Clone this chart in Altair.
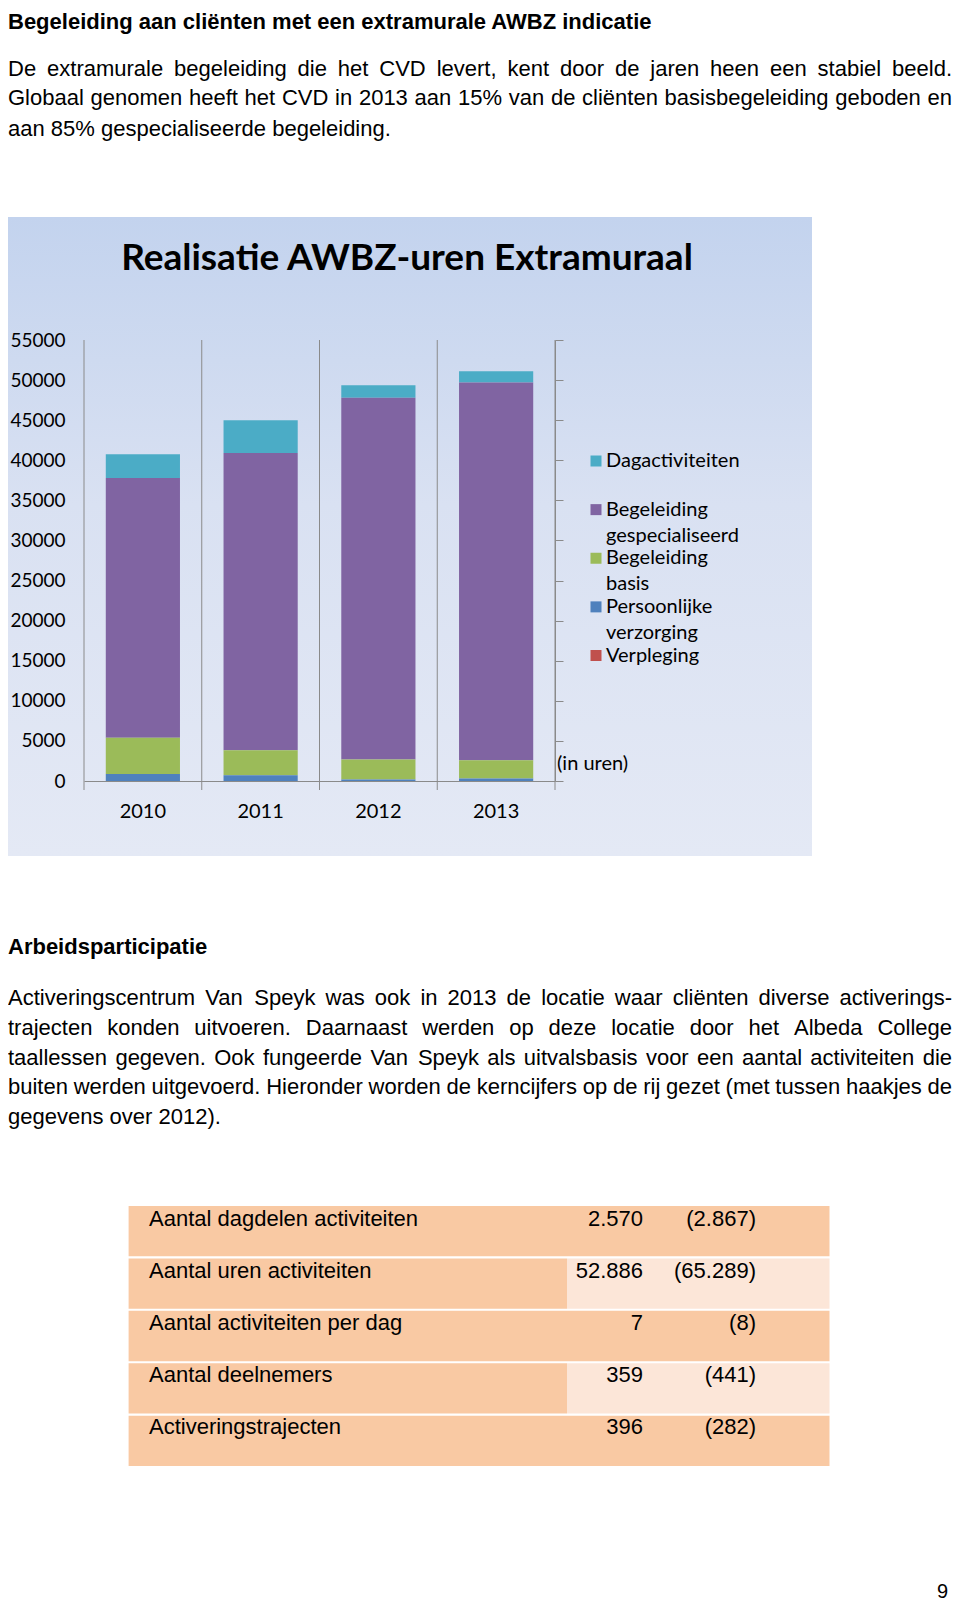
import altair as alt
import pandas as pd

# ---------------- data ----------------
years = ["2010", "2011", "2012", "2013"]
series = ["Dagactiviteiten", "Begeleiding gespecialiseerd", "Begeleiding basis",
          "Persoonlijke verzorging", "Verpleging"]
legend_labels = ["Dagactiviteiten", "Begeleiding\ngespecialiseerd", "Begeleiding\nbasis",
                 "Persoonlijke\nverzorging", "Verpleging"]
series_colors = ["#4BACC6", "#8064A2", "#9BBB59", "#4F81BD", "#C0504D"]
dagactiviteiten = [2950, 4100, 1550, 1400]
begeleiding_gespecialiseerd = [32410, 37070, 45110, 47110]
begeleiding_basis = [4510, 3105, 2490, 2290]
persoonlijke_verzorging = [880, 725, 200, 300]
verpleging = [0, 0, 0, 0]
y_ticks = [0, 5000, 10000, 15000, 20000, 25000, 30000, 35000, 40000, 45000, 50000, 55000]

table_labels = ["Aantal dagdelen activiteiten", "Aantal uren activiteiten",
                "Aantal activiteiten per dag", "Aantal deelnemers", "Activeringstrajecten"]
table_2013 = ["2.570", "52.886", "7", "359", "396"]
table_2012 = ["(2.867)", "(65.289)", "(8)", "(441)", "(282)"]

title1 = "Begeleiding aan cliënten met een extramurale AWBZ indicatie"
para1 = ["De extramurale begeleiding die het CVD levert, kent door de jaren heen een stabiel beeld.",
         "Globaal genomen heeft het CVD in 2013 aan 15% van de cliënten basisbegeleiding geboden en",
         "aan 85% gespecialiseerde begeleiding."]
title2 = "Arbeidsparticipatie"
para2 = ["Activeringscentrum Van Speyk was ook in 2013 de locatie waar cliënten diverse activerings-",
         "trajecten konden uitvoeren. Daarnaast werden op deze locatie door het Albeda College",
         "taallessen gegeven. Ook fungeerde Van Speyk als uitvalsbasis voor een aantal activiteiten die",
         "buiten werden uitgevoerd. Hieronder worden de kerncijfers op de rij gezet (met tussen haakjes de",
         "gegevens over 2012)."]
chart_title = "Realisatie AWBZ-uren Extramuraal"

# ---------------- layout constants ----------------
W, H = 944, 1597
BODY = "Liberation Sans"
CF = "Lato"
FS = 22
GRAY = "#8a8a8a"

# Arial / Liberation Sans advance widths (per 1000 em) for justification
AW = {' ': 278, '%': 889, '(': 333, ')': 333, ',': 278, '-': 333, '.': 278}
for d in "0123456789":
    AW[d] = 556
AW.update(dict(zip("ABCDEFGHIJKLMNOPQRSTUVWXYZ",
                   [667, 667, 722, 722, 667, 611, 778, 722, 278, 500, 667, 556, 833, 722, 778,
                    667, 778, 722, 667, 611, 722, 667, 944, 667, 667, 611])))
AW.update(dict(zip("abcdefghijklmnopqrstuvwxyz",
                   [556, 556, 500, 556, 556, 278, 556, 556, 222, 222, 500, 222, 833, 556, 556,
                    556, 556, 333, 500, 278, 556, 500, 722, 500, 500, 500])))
AW['ë'] = 556


def tw(s, size=FS):
    return sum(AW.get(c, 556) for c in s) * size / 1000.0


def line_words(line, y, justify, left=0.0, right=W):
    if not justify:
        return [dict(x=left, y=y, t=line)]
    words = line.split(" ")
    ws = [tw(w) for w in words]
    gap = (right - left - sum(ws)) / (len(words) - 1)
    out, x = [], left
    for w, wd in zip(words, ws):
        out.append(dict(x=x, y=y, t=w))
        x += wd + gap
    return out


body_rows = []
for i, (ln, yy) in enumerate(zip(para1, [61, 90, 120.5])):
    body_rows += line_words(ln, yy, i < len(para1) - 1)
for i, (ln, yy) in enumerate(zip(para2, [990, 1020, 1050, 1079, 1108.5])):
    body_rows += line_words(ln, yy, i < len(para2) - 1)
body_df = pd.DataFrame(body_rows)
bold_df = pd.DataFrame([dict(x=0, y=13.5, t=title1), dict(x=0, y=939, t=title2)])

body = alt.Chart(body_df).mark_text(align="left", baseline="middle", font=BODY,
                                    fontSize=FS, color="#000000").encode(
    x=alt.X("x:Q", scale=None, axis=None), y=alt.Y("y:Q", scale=None, axis=None), text="t:N")
bold = alt.Chart(bold_df).mark_text(align="left", baseline="middle", font=BODY,
                                    fontSize=FS, fontWeight="bold", color="#000000").encode(
    x=alt.X("x:Q", scale=None, axis=None), y=alt.Y("y:Q", scale=None, axis=None), text="t:N")
pagenum = alt.Chart(pd.DataFrame({"t": ["9"]})).mark_text(
    align="right", baseline="middle", font=BODY, fontSize=20, color="#000").encode(
    x=alt.value(940), y=alt.value(1584), text="t:N")

# ---------------- bar chart ----------------
X0, X1 = 76, 547
Y0, Y1 = 773, 332


def yscale():
    return alt.Scale(domain=[0, 55000], range=[Y0, Y1], nice=False, zero=True)


def xband(pi, po):
    return alt.Scale(domain=years, range=[X0, X1], paddingInner=pi, paddingOuter=po)


bg = alt.Chart(pd.DataFrame({"a": [0]})).mark_rect(
    fill=alt.Gradient(gradient="linear", x1=0, x2=0, y1=0, y2=1,
                      stops=[alt.GradientStop(color="#C3D3EE", offset=0),
                             alt.GradientStop(color="#D9E1F2", offset=0.45),
                             alt.GradientStop(color="#E4E9F5", offset=1)])).encode(
    x=alt.value(0), x2=alt.value(804), y=alt.value(209), y2=alt.value(848))

ctitle = alt.Chart(pd.DataFrame({"t": [chart_title]})).mark_text(
    align="center", baseline="middle", font=CF, fontSize=37, fontWeight="bold",
    color="#000000").encode(x=alt.value(399), y=alt.value(251), text="t:N")

rows = []
order_map = {"Verpleging": 0, "Persoonlijke verzorging": 1, "Begeleiding basis": 2,
             "Begeleiding gespecialiseerd": 3, "Dagactiviteiten": 4}
for s, vals in zip(series, [dagactiviteiten, begeleiding_gespecialiseerd, begeleiding_basis,
                            persoonlijke_verzorging, verpleging]):
    for yv, v in zip(years, vals):
        rows.append(dict(year=yv, series=s, value=v, order=order_map[s]))
bars_df = pd.DataFrame(rows)

color = alt.Color("series:N", scale=alt.Scale(domain=series, range=series_colors), legend=None)

seps = alt.Chart(pd.DataFrame({"year": years})).mark_rule(color=GRAY, strokeWidth=1).encode(
    x=alt.X("year:O", bandPosition=0, scale=xband(0, 0), axis=None),
    y=alt.Y(datum=55000, scale=yscale(), axis=None),
    y2=alt.value(782))
sep_end = alt.Chart(pd.DataFrame({"year": years})).transform_filter(
    "datum.year == '2013'").mark_rule(color=GRAY, strokeWidth=1).encode(
    x=alt.X("year:O", bandPosition=1, scale=xband(0, 0), axis=None),
    y=alt.Y(datum=55000, scale=yscale(), axis=None),
    y2=alt.value(782))

bars = alt.Chart(bars_df).mark_bar(stroke=None).encode(
    x=alt.X("year:O", scale=xband(0.37, 0.185),
            axis=alt.Axis(orient="bottom", offset=-(H - Y0), title=None, domain=True,
                          domainColor=GRAY, domainWidth=1, ticks=False, tickSize=0,
                          labelPadding=20, labelFont=CF, labelFontSize=20, labelColor="#000",
                          labelAngle=0, grid=False, zindex=2)),
    y=alt.Y("value:Q", stack="zero", scale=yscale(),
            axis=alt.Axis(orient="left", offset=-X0, title=None, values=y_ticks, domain=False,
                          ticks=False, tickSize=0, labelPadding=19, labelFont=CF,
                          labelFontSize=19, labelColor="#000", grid=False, format="d",
                          zindex=2)),
    color=color,
    order=alt.Order("order:Q", sort="ascending"))

right_axis = alt.Chart(bars_df).mark_tick(opacity=0).encode(
    y=alt.Y("value:Q", scale=yscale(),
            axis=alt.Axis(orient="right", offset=-(W - X1), title=None, values=y_ticks,
                          domain=True, domainColor=GRAY, ticks=True, tickSize=8,
                          tickColor=GRAY, labels=False, grid=False, zindex=2)))

leg_df = pd.DataFrame({"series": series, "label": legend_labels})
leg_y = alt.Y("series:N", sort=series,
              scale=alt.Scale(type="point", domain=series, range=[453, 647.5], padding=0),
              axis=None)
leg_sq = alt.Chart(leg_df).mark_square(size=121, opacity=1).encode(
    x=alt.value(588), y=leg_y, color=color)
leg_tx = alt.Chart(leg_df).mark_text(align="left", baseline="top", dy=-10, lineBreak="\n",
                                     lineHeight=26, font=CF, fontSize=20, color="#000").encode(
    x=alt.value(598), y=leg_y, text="label:N")

inuren = alt.Chart(pd.DataFrame({"t": ["(in uren)"]})).mark_text(
    align="left", baseline="middle", font=CF, fontSize=20, color="#000").encode(
    x=alt.value(549), y=alt.value(756), text="t:N")

# ---------------- table ----------------
tdf = pd.DataFrame({"label": table_labels, "v2013": table_2013, "v2012": table_2012,
                    "idx": list(range(len(table_labels)))})
PEACH, LIGHT = "#F9C9A3", "#FCE6D8"
ROW_DY = -13


def ty():
    sc = alt.Scale(domain=table_labels, range=[1198, 1458], paddingInner=0.04, paddingOuter=0)
    return alt.Y("label:N", sort=table_labels, scale=sc, axis=None)


cell_l = alt.Chart(tdf).mark_rect(fill=PEACH).encode(
    x=alt.value(120.6), x2=alt.value(559), y=ty())
cell_r = alt.Chart(tdf).mark_rect().encode(
    x=alt.value(559), x2=alt.value(821.5), y=ty(),
    fill=alt.condition("datum.idx % 2 == 1", alt.value(LIGHT), alt.value(PEACH)))
t_lab = alt.Chart(tdf).mark_text(align="left", baseline="middle", dy=ROW_DY, font=BODY,
                                 fontSize=FS, color="#000").encode(
    x=alt.value(141), y=ty(), text="label:N")
t_13 = alt.Chart(tdf).mark_text(align="right", baseline="middle", dy=ROW_DY, font=BODY,
                                fontSize=FS, color="#000").encode(
    x=alt.value(635), y=ty(), text="v2013:N")
t_12 = alt.Chart(tdf).mark_text(align="right", baseline="middle", dy=ROW_DY, font=BODY,
                                fontSize=FS, color="#000").encode(
    x=alt.value(748), y=ty(), text="v2012:N")

chart = alt.layer(
    body, bold, pagenum,
    bg, ctitle, seps, sep_end, bars, right_axis, leg_sq, leg_tx, inuren,
    cell_l, cell_r, t_lab, t_13, t_12
).resolve_scale(x="independent", y="independent").properties(
    width=W, height=H, autosize=alt.AutoSizeParams(type="none"), padding=0,
    background="white"
).configure_view(stroke=None)

chart.save("out.html", embed_options={"renderer": "svg", "actions": False})
